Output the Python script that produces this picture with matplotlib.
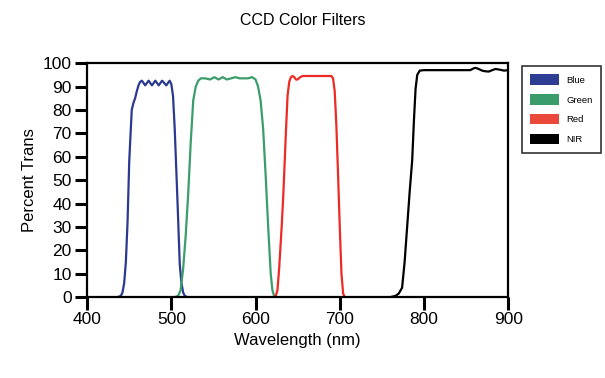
import matplotlib.pyplot as plt
from matplotlib.patches import Patch

plt.rcParams['font.family'] = ['Liberation Sans', 'DejaVu Sans']

# transmission curves (wavelength nm, percent)
blue_wl = [436, 440, 442, 444, 446, 448, 450, 453, 455, 457, 459, 461, 463, 465, 469,
           473, 477, 481, 485, 489, 494, 498, 500, 502, 504, 507, 510, 512, 514, 516, 519]
blue_t = [0, 0.5, 2, 6, 15, 32, 58, 80, 83, 85, 88, 90.5, 92, 92.5, 90.5,
          92.5, 90.5, 92.5, 90.5, 92.5, 90.5, 92.5, 91, 86, 72, 44, 14, 6, 2, 0.5, 0]

green_wl = [504, 508, 511, 514, 517, 520, 523, 526, 529, 532, 535, 540, 546, 551, 556,
            561, 566, 571, 576, 581, 586, 591, 596, 600, 603, 606, 609, 612, 615, 618,
            620, 622, 625]
green_t = [0, 0.5, 3, 12, 26, 44, 66, 84, 90, 92.5, 93.5, 93.5, 93, 94, 93,
           94, 93, 93.5, 94, 93.5, 93.5, 93.5, 94, 93, 90, 84, 72, 52, 30, 10,
           3, 0.5, 0]

red_wl = [622, 624, 626, 628, 631, 633, 636, 638, 640, 642, 644, 646, 648, 650, 653,
          656, 660, 670, 680, 690, 692, 694, 696, 698, 700, 702, 704, 706]
red_t = [0, 0.5, 3, 12, 30, 44, 70, 86, 92, 94, 94.5, 94, 93, 93, 94,
         94.5, 94.5, 94.5, 94.5, 94.5, 93.5, 88, 73, 52, 30, 10, 1.5, 0]

nir_wl = [700, 760, 766, 770, 774, 777, 780, 783, 786, 788, 790, 792, 795, 800, 820,
          840, 855, 858, 861, 865, 869, 873, 877, 881, 885, 890, 895, 900]
nir_t = [0, 0, 0.5, 1.5, 4, 15, 30, 45, 58.5, 75, 89, 95, 96.8, 97, 97,
         97, 97, 97.6, 98, 97.5, 96.8, 96.5, 96.4, 97, 97.5, 97.2, 96.8, 97]

series = [
    ("Blue", blue_wl, blue_t, "#2b3990"),
    ("Green", green_wl, green_t, "#3a9d6b"),
    ("Red", red_wl, red_t, "#ec2b24"),
    ("NIR", nir_wl, nir_t, "#000000"),
]
legend_colors = ["#2d3d94", "#3a9b6b", "#e9483a", "#000000"]

fig = plt.figure(figsize=(6.05, 3.78), dpi=100)
ax = fig.add_axes([0.144, 0.214, 0.696, 0.619])

for name, wl, t, col in series:
    ax.plot(wl, t, color=col, lw=1.6, solid_joinstyle='round')

ax.set_xlim(400, 900)
ax.set_ylim(0, 100)
ax.set_xticks([400, 500, 600, 700, 800, 900])
ax.set_yticks(range(0, 101, 10))
ax.tick_params(direction='out', length=9, width=2.2, labelsize=12.5, pad=2)
for s in ax.spines.values():
    s.set_linewidth(1.6)

ax.set_xlabel("Wavelength (nm)", fontsize=12, labelpad=4)
ax.set_ylabel("Percent Trans", fontsize=12, labelpad=4)
fig.text(0.5, 0.945, "CCD Color Filters", ha='center', va='center', fontsize=11.5)

handles = [Patch(facecolor=c, edgecolor='none') for c in legend_colors]
leg = fig.legend(handles, [s[0] for s in series], loc='upper left',
                 bbox_to_anchor=(0.855, 0.838), fontsize=6.8, frameon=True,
                 fancybox=False, handlelength=3.0, handleheight=1.3,
                 labelspacing=1.0, borderpad=0.9, handletextpad=0.8)
leg.get_frame().set_edgecolor('black')
leg.get_frame().set_linewidth(1.2)

fig.savefig("out.png", dpi=100)
